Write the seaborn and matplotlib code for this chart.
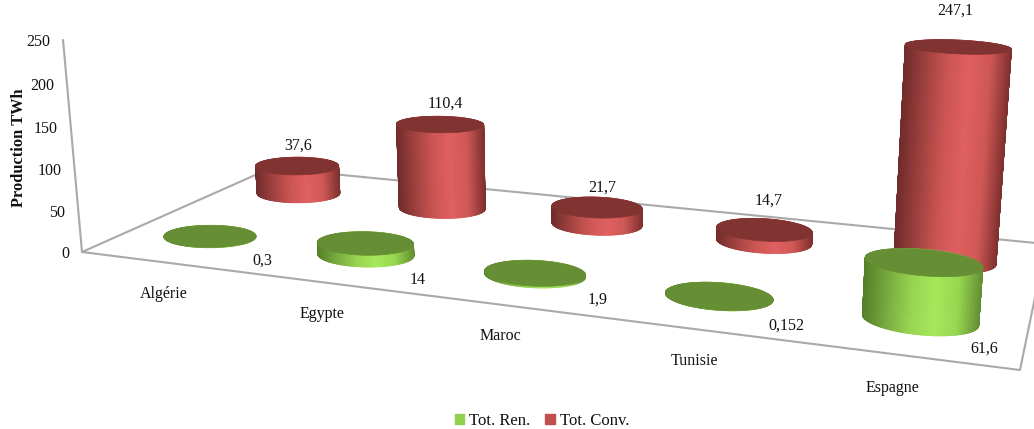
import numpy as np
import pandas as pd
import matplotlib
matplotlib.use("Agg")
import matplotlib.pyplot as plt
from matplotlib.collections import PolyCollection
from matplotlib.patches import Patch
import seaborn as sns

# Electricity production by country, in TWh
countries = ["Algérie", "Egypte", "Maroc", "Tunisie", "Espagne"]
renewable = [0.3, 14, 1.9, 0.152, 61.6]
conventional = [37.6, 110.4, 21.7, 14.7, 247.1]
renewable_labels = ["0,3", "14", "1,9", "0,152", "61,6"]
conventional_labels = ["37,6", "110,4", "21,7", "14,7", "247,1"]
y_ticks = [0, 50, 100, 150, 200, 250]
series_names = ["Tot. Ren.", "Tot. Conv."]
y_title = "Production TWh"

frame = pd.DataFrame({"pays": countries, "ren": renewable, "conv": conventional})

sns.set_theme(style="white")
plt.rcParams["font.family"] = ["Liberation Serif", "DejaVu Serif"]

WIDTH, HEIGHT = 1034, 429
fig = plt.figure(figsize=(WIDTH / 100, HEIGHT / 100), dpi=100)
ax = fig.add_axes([0, 0, 1, 1])
ax.set_xlim(0, WIDTH)
ax.set_ylim(HEIGHT, 0)
ax.axis("off")

# Perspective camera: floor plane corners and the vanishing point of the vertical axis
N_CAT, N_ROW, Z_MAX = len(countries), 2, y_ticks[-1]
floor_src = [(0, 0), (N_CAT, 0), (N_CAT, N_ROW), (0, N_ROW)]
floor_dst = [(82, 252), (1020, 370), (1046, 244), (271, 168)]
vanish = np.array([590.0, 5930.0, 1.0])
axis_top_y = 40.0


def floor_homography(src, dst):
    rows, rhs = [], []
    for (a, b), (x, y) in zip(src, dst):
        rows.append([a, b, 1, 0, 0, 0, -a * x, -b * x])
        rows.append([0, 0, 0, a, b, 1, -a * y, -b * y])
        rhs += [x, y]
    return np.append(np.linalg.solve(np.array(rows, float), np.array(rhs, float)), 1).reshape(3, 3)


H = floor_homography(floor_src, floor_dst)
k = (axis_top_y - floor_dst[0][1]) / (vanish[1] - axis_top_y) / Z_MAX


def project(u, v, z=0.0):
    u, v, z = np.broadcast_arrays(np.asarray(u, float), np.asarray(v, float), np.asarray(z, float))
    pts = np.stack([u, v, np.ones_like(u)], axis=-1) @ H.T + (z * k)[..., None] * vanish
    return pts[..., :2] / pts[..., 2:]


# Shading ramps along the visible side of each cylinder
red_ramp = sns.blend_palette(["#702c2b", "#a04240", "#cc5553", "#e06060", "#cf5856", "#7d302e"], 200)
green_ramp = sns.blend_palette(["#558029", "#78ac40", "#98d450", "#a6e85a", "#98d650", "#638f33"], 200)
red_cap, green_cap = "#813331", "#668e34"

theta = np.linspace(0, 2 * np.pi, 361)


def draw_cylinder(u0, v0, radius_u, radius_v, value, ramp, cap, zorder):
    cu = u0 + radius_u * np.cos(theta)
    cv = v0 + radius_v * np.sin(theta)
    base = project(cu, cv, 0)
    top = project(cu, cv, value)
    xmin, xmax = base[:, 0].min(), base[:, 0].max()
    # Far facets are painted first so the near ones cover them
    order = np.argsort(-np.sin(0.5 * (theta[:-1] + theta[1:])), kind="stable")
    quads, colors = [], []
    for i in order:
        quads.append([base[i], base[i + 1], top[i + 1], top[i]])
        frac = np.clip((base[i, 0] - xmin) / (xmax - xmin), 0, 0.999)
        colors.append(ramp[int(frac * len(ramp))])
    side = PolyCollection(quads, facecolors=colors, edgecolors=colors, linewidths=0.5, zorder=zorder)
    side.set_snap(False)
    ax.add_collection(side)
    ax.add_patch(plt.Polygon(top, closed=True, facecolor=cap, edgecolor=cap,
                             linewidth=0.5, zorder=zorder + 0.1, snap=False))


# Floor outline and vertical axis
axis_color = "#a9a9a9"
corners = project([0, N_CAT, N_CAT, 0, 0], [0, 0, N_ROW, N_ROW, 0])
ax.plot(corners[:, 0], corners[:, 1], color=axis_color, lw=1.5, zorder=1)
axis_line = project([0, 0], [0, 0], [0, Z_MAX])
ax.plot(axis_line[:, 0], axis_line[:, 1], color=axis_color, lw=1.5, zorder=1)

# Cylinders: conventional row at the back, renewable row in front
for i, row in frame.iterrows():
    draw_cylinder(i + 0.5, 1.5, 0.27, 0.22, row["conv"], red_ramp, red_cap, 2 + i * 0.2)
for i, row in frame.iterrows():
    draw_cylinder(i + 0.5, 0.5, 0.275, 0.21, row["ren"], green_ramp, green_cap, 4 + i * 0.2)

# Value labels
text_kw = dict(color="#111111", fontsize=11.5, ha="center", va="center", zorder=8)
conv_offsets = [(1, -20), (5, -21), (5, -20), (4, -29), (-3, -36)]
ren_offsets = [(52, 24), (52, 37), (63, 27), (67, 30), (64, 29)]
for i, (val, lab) in enumerate(zip(conventional, conventional_labels)):
    x, y = project(i + 0.5, 1.5, val)
    ax.text(x + conv_offsets[i][0], y + conv_offsets[i][1], lab, **text_kw)
for i, (val, lab) in enumerate(zip(renewable, renewable_labels)):
    x, y = project(i + 0.5, 0.5, val if i < 4 else 0)
    ax.text(x + ren_offsets[i][0], y + ren_offsets[i][1], lab, **text_kw)

# Vertical axis ticks
for tick in y_ticks:
    x, y = project(0, 0, tick)
    ax.text(x - 13, y + 2, str(tick), color="#111111", fontsize=11.5, ha="right", va="center")
ax.text(19, 148, y_title, rotation=90, fontsize=11.8, fontweight="bold",
        color="#111111", ha="center", va="center")

# Category labels under the front edge
cat_offsets = [(5, 32), (1, 32), (2, 32), (2, 32), (-13, 32)]
for i, name in enumerate(countries):
    x, y = project(i + 0.5, 0)
    ax.text(x + cat_offsets[i][0], y + cat_offsets[i][1], name, **text_kw)

handles = [Patch(color="#92d050", label=series_names[0]), Patch(color="#c0504d", label=series_names[1])]
fig.legend(handles=handles, loc="center", bbox_to_anchor=(542 / WIDTH, 1 - 421 / HEIGHT), ncol=2,
           frameon=False, fontsize=12, handlelength=0.55, handleheight=0.55, handletextpad=0.3,
           columnspacing=0.9, labelcolor="#111111")

fig.savefig("out.png", dpi=100)
